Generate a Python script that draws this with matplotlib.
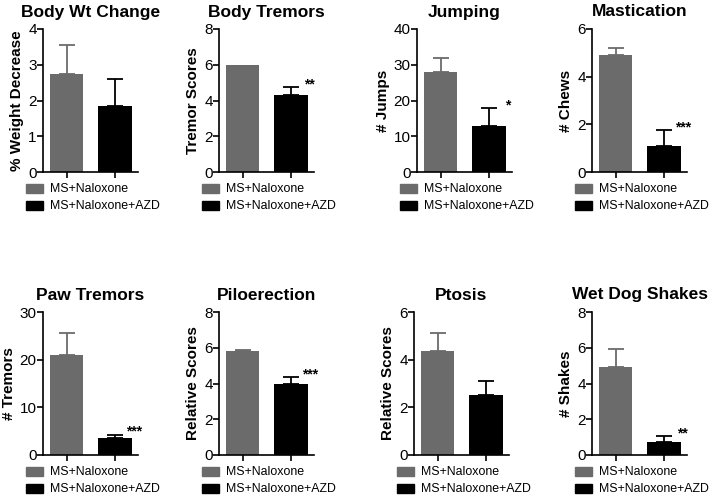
import matplotlib.pyplot as plt
import matplotlib.patches as mpatches

plt.rcParams['font.family'] = ['Liberation Sans', 'DejaVu Sans']

# one entry per panel, in reading order
titles = ['Body Wt Change', 'Body Tremors', 'Jumping', 'Mastication',
          'Paw Tremors', 'Piloerection', 'Ptosis', 'Wet Dog Shakes']
ylabels = ['% Weight Decrease', 'Tremor Scores', '# Jumps', '# Chews',
           '# Tremors', 'Relative Scores', 'Relative Scores', '# Shakes']
ymax = [4, 8, 40, 6, 30, 8, 6, 8]
ystep = [1, 2, 10, 2, 10, 2, 2, 2]
nal_mean = [2.75, 6.0, 28.0, 4.9, 21.0, 5.8, 4.35, 4.9]
nal_err = [0.8, 0.0, 3.8, 0.3, 4.5, 0.1, 0.75, 1.05]
azd_mean = [1.85, 4.3, 13.0, 1.1, 3.5, 4.0, 2.5, 0.75]
azd_err = [0.75, 0.45, 4.8, 0.65, 0.8, 0.35, 0.6, 0.3]
stars = ['', '**', '*', '***', '***', '***', '', '**']
groups = ['MS+Naloxone', 'MS+Naloxone+AZD']
colors = ['#6b6b6b', '#000000']

W, H = 710, 495
fig = plt.figure(figsize=(W / 100, H / 100), dpi=100)

# axes boxes in pixels: left, top (width/height shared)
lefts = [43, 219, 417, 592, 43, 219, 414, 592]
tops = [29, 29, 29, 29, 312, 312, 312, 312]
aw, ah = 95, 143

for i in range(8):
    l, t = lefts[i], tops[i]
    ax = fig.add_axes([l / W, 1 - (t + ah) / H, aw / W, ah / H])
    means = [nal_mean[i], azd_mean[i]]
    errs = [nal_err[i], azd_err[i]]
    for j in range(2):
        ax.bar(j, means[j], width=0.69, color=colors[j], zorder=2)
        if errs[j] > 0:
            ax.errorbar(j, means[j], yerr=[[0], [errs[j]]], color=colors[j],
                        capsize=6, elinewidth=1.3, capthick=1.3, zorder=1)
    if stars[i]:
        ax.annotate(stars[i], xy=(1.38, azd_mean[i] + azd_err[i]),
                    xytext=(0, 2), textcoords='offset points', fontsize=10,
                    fontweight='bold', ha='center', va='center')
    ax.set_xlim(-0.49, 1.47)
    ax.set_ylim(0, ymax[i])
    ax.set_yticks(range(0, ymax[i] + 1, ystep[i]))
    ax.set_xticks([0, 1])
    ax.set_xticklabels([])
    for s in ['top', 'right']:
        ax.spines[s].set_visible(False)
    for s in ['left', 'bottom']:
        ax.spines[s].set_linewidth(1.2)
    ax.tick_params(axis='y', length=4, width=1.2, labelsize=11, pad=0.5)
    ax.tick_params(axis='x', length=4, width=1.2)
    ax.set_title(titles[i], fontsize=12.5, fontweight='bold', pad=9)
    ax.set_ylabel(ylabels[i], fontsize=11, fontweight='bold', labelpad=3)

    handles = [mpatches.Patch(color=c, label=g) for c, g in zip(colors, groups)]
    ax.legend(handles=handles, loc='upper left', bbox_to_anchor=(-0.18, -0.08),
              frameon=False, fontsize=8.9, handlelength=1.4, handleheight=0.75,
              handletextpad=0.55, labelspacing=0.4, borderaxespad=0,
              borderpad=0)

fig.savefig('out.png', dpi=100)
